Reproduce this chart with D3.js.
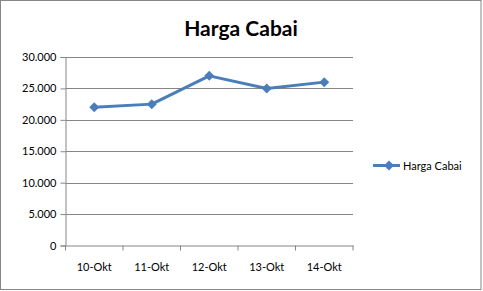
<!DOCTYPE html>
<html><head><meta charset="utf-8">
<script src="https://cdn.jsdelivr.net/npm/d3@7"></script>
<style>body{margin:0;background:#fff}svg{display:block}text{font-family:Lato,"Open Sans",sans-serif}</style>
</head><body>
<script>
const categories = ["10-Okt","11-Okt","12-Okt","13-Okt","14-Okt"];
const seriesName = "Harga Cabai";
const values = [22000, 22500, 27000, 25000, 26000];
const yTicks = [0, 5000, 10000, 15000, 20000, 25000, 30000];
const title = "Harga Cabai";

const W = 483, H = 291;
const svg = d3.select("body").append("svg").attr("width", W).attr("height", H);
svg.append("rect").attr("x",0.5).attr("y",0.5).attr("width",480.5).attr("height",289)
  .attr("fill","#fff").attr("stroke","#868686");

const m = {l:65.5, r:353, t:57, b:245.5};
const x = d3.scaleBand().domain(categories).range([m.l, m.r]);
const y = d3.scaleLinear().domain([0,30000]).range([m.b, m.t]);
const fmt = v => v === 0 ? "0" : d3.format(",")(v).replace(/,/g,".");

svg.append("g").selectAll("line").data(yTicks.filter(d=>d>0)).join("line")
  .attr("x1", m.l).attr("x2", m.r).attr("y1", d=>Math.round(y(d))+0.5).attr("y2", d=>Math.round(y(d))+0.5)
  .attr("stroke","#868686").attr("stroke-width",1);

const ya = svg.append("g").attr("transform",`translate(${m.l},0)`)
  .call(d3.axisLeft(y).tickValues(yTicks).tickFormat(fmt).tickSize(5).tickPadding(4));
ya.select(".domain").attr("stroke","#868686");
ya.selectAll(".tick line").attr("stroke","#868686");
ya.selectAll(".tick text").attr("font-size","11px").attr("fill","#000");

const xa = svg.append("g").attr("transform",`translate(0,${m.b})`)
  .call(d3.axisBottom(x).tickSize(0).tickPadding(18));
xa.select(".domain").attr("stroke","#868686");
xa.selectAll(".tick text").attr("font-size","11px").attr("fill","#000");
const bounds = categories.map(c=>x(c)).concat([x(categories[categories.length-1])+x.bandwidth()]);
xa.selectAll(".btick").data(bounds).join("line").attr("class","btick")
  .attr("x1",d=>d).attr("x2",d=>d).attr("y1",0).attr("y2",5).attr("stroke","#868686");

const color = "#4A7EBB";
const line = d3.line().x((d,i)=>x(categories[i])+x.bandwidth()/2).y(d=>y(d));
svg.append("path").datum(values).attr("d", line).attr("fill","none")
  .attr("stroke",color).attr("stroke-width",3).attr("stroke-linejoin","round");
const diamond = "M0,-5L5,0L0,5L-5,0Z";
svg.append("g").selectAll("path").data(values).join("path")
  .attr("d", diamond)
  .attr("transform",(d,i)=>`translate(${x(categories[i])+x.bandwidth()/2},${y(d)})`)
  .attr("fill",color);

svg.append("text").attr("x",241).attr("y",36).attr("text-anchor","middle")
  .attr("font-size","21px").attr("font-weight","bold").attr("fill","#000").text(title);

const ly = 165.5;
svg.append("line").attr("x1",373).attr("x2",400).attr("y1",ly).attr("y2",ly)
  .attr("stroke",color).attr("stroke-width",3);
svg.append("path").attr("d",diamond).attr("transform",`translate(389,${ly})`).attr("fill",color);
svg.append("text").attr("x",403).attr("y",ly+4).attr("font-size","11px").attr("fill","#000").text(seriesName);
</script>
</body></html>
